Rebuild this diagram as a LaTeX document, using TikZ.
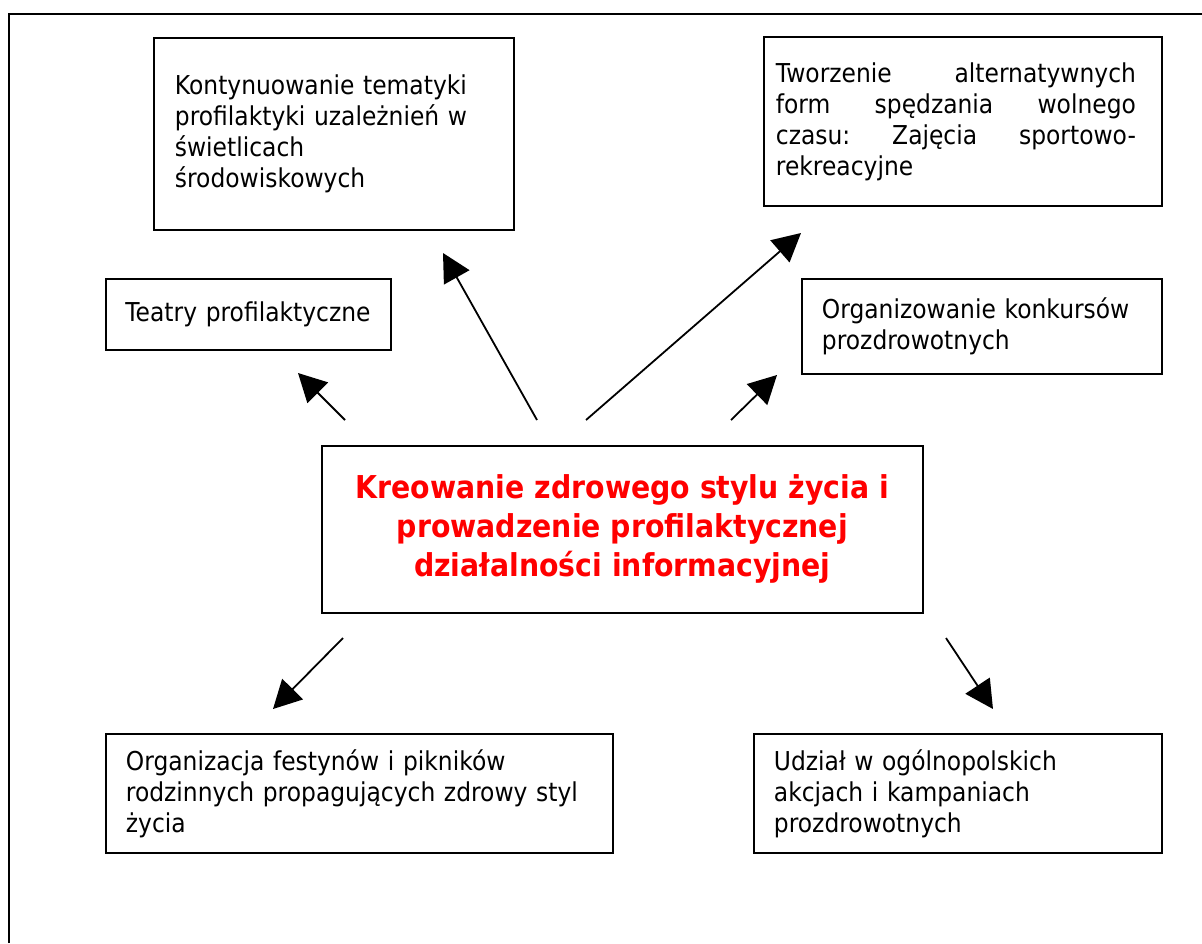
\documentclass[tikz,border=0pt]{standalone}
\usepackage{fontspec}
\setmainfont{DejaVu Sans}[FakeStretch=0.9]
\usetikzlibrary{arrows.meta}
\hyphenpenalty=10000

\tikzset{
  box/.style={draw, line width=1.8pt, anchor=north west, align=left, inner sep=0pt},
  glowny/.style={draw, line width=1.8pt, anchor=north west, align=center, inner sep=0pt,
    text=red, font=\fontsize{31.5}{39}\selectfont\bfseries},
  strz/.style={line width=1.8pt, -{Triangle[length=28pt,width=29pt]}},
}

\begin{document}
\begin{tikzpicture}[x=1pt,y=-1pt, font=\fontsize{26}{31}\selectfont]

  \useasboundingbox (0,0) rectangle (1202,943);

  % ramka
  \draw[line width=1.8pt] (9,943) -- (9,14) -- (1202,14);

  % pola gorne
  \node[box, minimum width=360pt, minimum height=192pt, text width=318pt] (kont) at (153,37)
    {Kontynuowanie tematyki\\ profilaktyki uzależnień w\\ świetlicach\\ środowiskowych};
  \node[box, minimum width=398pt, minimum height=169pt, text width=374pt] (tworz) at (763,36)
    {\makebox[360pt]{Tworzenie\hfill alternatywnych}\\
     \makebox[360pt]{form\hfill spędzania\hfill wolnego}\\
     \makebox[360pt]{czasu:\hfill Zajęcia\hfill sportowo-}\\
     rekreacyjne};
  \node[box, minimum width=285pt, minimum height=71pt, text width=246pt] (teatry) at (105,278)
    {Teatry profilaktyczne};
  \node[box, minimum width=360pt, minimum height=95pt, text width=320pt] (konk) at (801,278)
    {Organizowanie konkursów\\ prozdrowotnych};

  % srodek
  \node[glowny, minimum width=601pt, minimum height=167pt] (glowny) at (321,445)
    {Kreowanie zdrowego stylu życia i\\ prowadzenie profilaktycznej\\ działalności informacyjnej};

  % pola dolne
  \node[box, minimum width=507pt, minimum height=119pt, text width=467pt] (fest) at (105,733)
    {Organizacja festynów i pikników\\ rodzinnych propagujących zdrowy styl\\ życia};
  \node[box, minimum width=408pt, minimum height=119pt, text width=368pt] (akcje) at (753,733)
    {Udział w ogólnopolskich\\ akcjach i kampaniach\\ prozdrowotnych};

  % strzalki
  \coordinate (s1) at (345,420);  \coordinate (k1) at (298,373);
  \coordinate (s2) at (537,420);  \coordinate (k2) at (443,253);
  \coordinate (s3) at (586,420);  \coordinate (k3) at (801,233);
  \coordinate (s4) at (731,420);  \coordinate (k4) at (777,375);
  \coordinate (s5) at (343,638);  \coordinate (k5) at (273,709);
  \coordinate (s6) at (946,638);  \coordinate (k6) at (993,709);

  \draw[strz] (s1) -- (k1);
  \draw[strz] (s2) -- (k2);
  \draw[strz] (s3) -- (k3);
  \draw[strz] (s4) -- (k4);
  \draw[strz] (s5) -- (k5);
  \draw[strz] (s6) -- (k6);

\end{tikzpicture}
\end{document}
